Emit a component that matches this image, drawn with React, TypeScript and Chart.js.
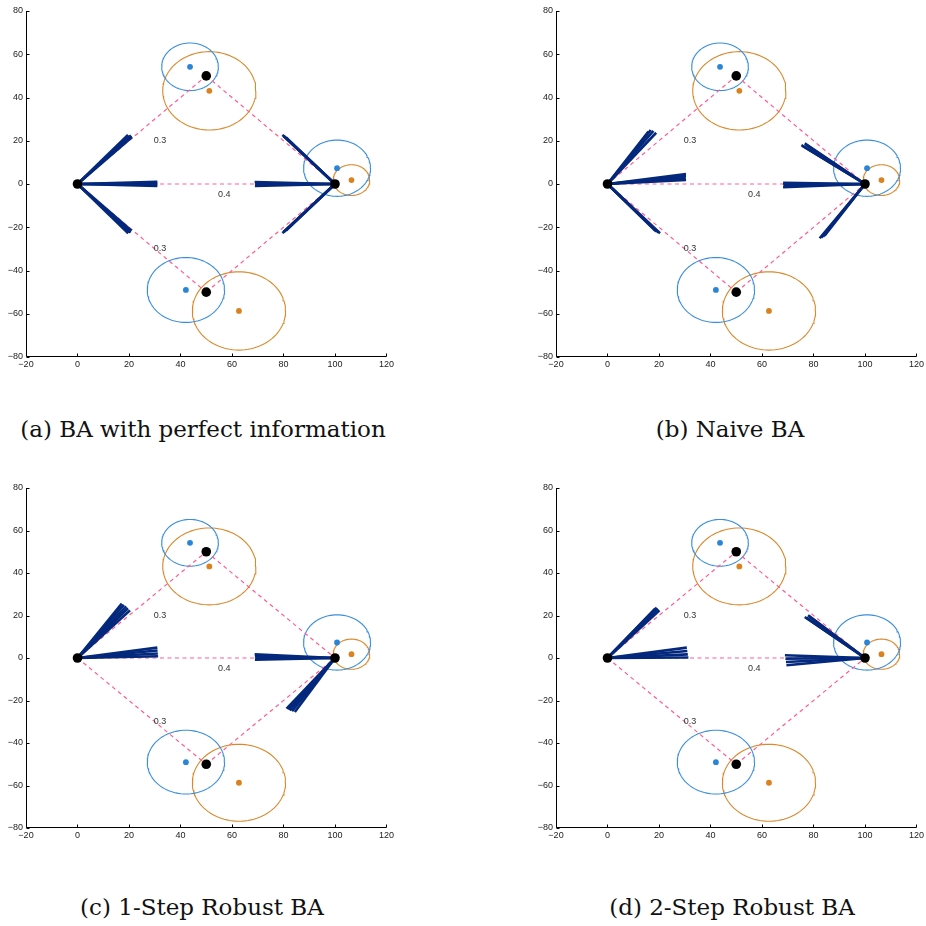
import React, { useEffect, useRef } from "react";
import { Chart, registerables } from "chart.js";
Chart.register(...registerables);

const X_TICKS = [-20, 0, 20, 40, 60, 80, 100, 120];
const Y_TICKS = [-80, -60, -40, -20, 0, 20, 40, 60, 80];

const NODES = [[0, 0], [100, 0], [50, 50], [50, -50]];
const EDGES = [[0, 2], [2, 1], [0, 1], [0, 3], [3, 1]];
const EDGE_LABELS = ["0.3", "0.4", "0.3"];
const EDGE_LABEL_POS = [[32, 20], [57, -5], [32, -30]];

const BLUE_CENTERS = [[43.7, 54.2], [100.8, 7.3], [42.1, -49]];
const BLUE_RADII = [11, 13, 15];
const ORANGE_CENTERS = [[51.2, 43.1], [106.4, 1.8], [62.7, -58.7]];
const ORANGE_RADII = [18.1, 7.1, 18.1];

// [origin node index, tip x, tip y]
const ARROWS_A = [
  [0, 19.6, 22.7], [0, 20.4, 22.2], [0, 21.2, 21.7], [0, 20.8, 22.4],
  [0, 31, 1.0], [0, 31, 0.4], [0, 31, -0.3], [0, 31, -0.9],
  [0, 19.7, -22.8], [0, 20.3, -22.2], [0, 21.0, -21.6], [0, 20.6, -22.5],
  [1, 79.6, 22.7], [1, 80.3, 22.0], [1, 81.0, 21.5], [1, 79.9, 22.3],
  [1, 68.8, 0.9], [1, 69, 0.3], [1, 69, -0.3], [1, 68.9, -0.9],
  [1, 79.6, -22.7], [1, 80.3, -22.0], [1, 81.0, -21.5], [1, 79.9, -22.3],
];
const ARROWS_B = [
  [0, 16.8, 25.0], [0, 18.9, 23.7], [0, 15.9, 24.2], [0, 17.8, 24.6],
  [0, 30.5, 4.6], [0, 30.5, 3.7], [0, 30.4, 2.8], [0, 30.5, 1.9],
  [0, 20.4, -22.8], [0, 19.1, -22.0], [0, 19.8, -22.5], [0, 18.6, -21.7],
  [1, 75.3, 18.0], [1, 76.6, 18.8], [1, 75.9, 17.5], [1, 77.0, 18.2],
  [1, 68.2, 0.6], [1, 68.2, -0.1], [1, 68.4, -0.8], [1, 68.2, -1.5],
  [1, 82.4, -25.1], [1, 83.7, -24.4], [1, 83.0, -24.8], [1, 84.3, -23.9],
];
const ARROWS_C = [
  [0, 17.2, 25.6], [0, 20.4, 22.4], [0, 18.9, 24.3], [0, 18.0, 25.0], [0, 19.6, 23.4],
  [0, 31.0, 4.9], [0, 31.1, 3.5], [0, 31.2, 2.1], [0, 31.3, 0.8],
  [1, 68.8, 1.8], [1, 68.9, 0.9], [1, 69.0, 0.0], [1, 68.9, -0.8],
  [1, 81.2, -23.8], [1, 84.4, -25.4], [1, 82.4, -24.6], [1, 83.3, -25.0], [1, 81.8, -24.2],
];
const ARROWS_D = [
  [0, 19.1, 23.7], [0, 20.2, 22.4], [0, 18.5, 23.2], [0, 19.6, 23.1],
  [0, 30.8, 4.9], [0, 31.0, 3.3], [0, 31.2, 1.7], [0, 31.4, 0.2],
  [1, 76.6, 19.3], [1, 77.9, 20.1], [1, 77.2, 19.0], [1, 78.3, 19.6],
  [1, 68.9, 1.3], [1, 69.1, -0.3], [1, 69.3, -1.9], [1, 69.5, -3.4],
];

const CAPTIONS = [
  "(a) BA with perfect information",
  "(b) Naive BA",
  "(c) 1-Step Robust BA",
  "(d) 2-Step Robust BA",
];

const BLUE = "#3a8edc";
const BLUE_DOT = "#2a84d8";
const ORANGE = "#d9892c";
const ORANGE_DOT = "#d9821f";
const PINK = "#ff5c93";
const NAVY = "#03287c";

function circlePoints(c: number[], r: number) {
  const pts: { x: number; y: number }[] = [];
  for (let i = 0; i <= 96; i++) {
    const t = (i / 96) * 2 * Math.PI;
    pts.push({ x: c[0] + r * Math.cos(t), y: c[1] + r * Math.sin(t) });
  }
  return pts;
}

function buildDatasets(arrows: number[][]) {
  const ds: any[] = [];
  BLUE_CENTERS.forEach((c, i) => {
    ds.push({ data: circlePoints(c, BLUE_RADII[i]), showLine: true, borderColor: BLUE, borderWidth: 1.1, pointRadius: 0, order: 50 });
  });
  ORANGE_CENTERS.forEach((c, i) => {
    ds.push({ data: circlePoints(c, ORANGE_RADII[i]), showLine: true, borderColor: ORANGE, borderWidth: 1.1, pointRadius: 0, order: 50 });
  });
  EDGES.forEach(([a, b]) => {
    ds.push({
      data: [{ x: NODES[a][0], y: NODES[a][1] }, { x: NODES[b][0], y: NODES[b][1] }],
      showLine: true, borderColor: PINK, borderWidth: 1.2, borderDash: [4, 3.5], pointRadius: 0, order: 40,
    });
  });
  ds.push({ data: BLUE_CENTERS.map((c) => ({ x: c[0], y: c[1] })), showLine: false, pointRadius: 2.9, pointBackgroundColor: BLUE_DOT, pointBorderWidth: 0, order: 30 });
  ds.push({ data: ORANGE_CENTERS.map((c) => ({ x: c[0], y: c[1] })), showLine: false, pointRadius: 2.9, pointBackgroundColor: ORANGE_DOT, pointBorderWidth: 0, order: 30 });
  arrows.forEach(([n, tx, ty]) => {
    ds.push({
      data: [{ x: NODES[n][0], y: NODES[n][1] }, { x: tx, y: ty }],
      showLine: true, borderColor: NAVY, borderWidth: 2.6, borderCapStyle: "butt", pointRadius: 0, order: 20,
    });
  });
  ds.push({ data: NODES.map((p) => ({ x: p[0], y: p[1] })), showLine: false, pointRadius: 4.8, pointBackgroundColor: "#000", pointBorderWidth: 0, order: 10 });
  return ds;
}

const fmt = (v: any) => (Number(v) < 0 ? "\u2212" + Math.abs(Number(v)) : String(v));

const axesPlugin = {
  id: "matlabAxes",
  afterDraw(chart: any) {
    const { ctx, chartArea, scales } = chart;
    const { right, top, left, bottom } = chartArea;
    const xs = scales.x;
    const ys = scales.y;
    ctx.save();
    ctx.strokeStyle = "#000";
    ctx.lineWidth = 1;
    const L = Math.round(left) + 0.5;
    const B = Math.round(bottom) - 0.5;
    ctx.beginPath();
    ctx.moveTo(L, top);
    ctx.lineTo(L, B);
    ctx.lineTo(right, B);
    ctx.stroke();
    ctx.beginPath();
    X_TICKS.forEach((v) => {
      const px = Math.round(xs.getPixelForValue(v)) + 0.5;
      ctx.moveTo(px, B);
      ctx.lineTo(px, B - 3);
    });
    Y_TICKS.forEach((v) => {
      const py = Math.round(ys.getPixelForValue(v)) + 0.5;
      ctx.moveTo(L, py);
      ctx.lineTo(L + 3, py);
    });
    ctx.stroke();
    ctx.restore();
  },
  afterDatasetsDraw(chart: any) {
    const { ctx, scales } = chart;
    ctx.save();
    ctx.fillStyle = "#333";
    ctx.font = "9px 'Liberation Sans', Arial, sans-serif";
    ctx.textAlign = "center";
    ctx.textBaseline = "middle";
    EDGE_LABELS.forEach((t, i) => {
      ctx.fillText(t, scales.x.getPixelForValue(EDGE_LABEL_POS[i][0]), scales.y.getPixelForValue(EDGE_LABEL_POS[i][1]));
    });
    ctx.restore();
  },
};

function Panel({ arrows, left, top, xH }: { arrows: number[][]; left: number; top: number; xH: number }) {
  const ref = useRef<HTMLCanvasElement>(null);
  useEffect(() => {
    if (!ref.current) return;
    const tickFont = { family: "'Liberation Sans', Arial, sans-serif", size: 9 };
    const chart = new Chart(ref.current, {
      type: "scatter",
      data: { datasets: buildDatasets(arrows) },
      options: {
        animation: false,
        responsive: false,
        maintainAspectRatio: false,
        devicePixelRatio: 1,
        layout: { padding: { top: 11, right: 9, left: 0, bottom: 0 } },
        plugins: { legend: { display: false }, tooltip: { enabled: false } },
        events: [],
        scales: {
          x: {
            type: "linear",
            min: -20,
            max: 120,
            afterBuildTicks: (s: any) => { s.ticks = X_TICKS.map((v) => ({ value: v })); },
            afterFit: (s: any) => { s.height = xH; },
            ticks: { callback: fmt, font: tickFont, color: "#222", maxRotation: 0, autoSkip: false, padding: 2 },
            grid: { display: false, drawTicks: false },
            border: { display: false },
          },
          y: {
            type: "linear",
            min: -80,
            max: 80,
            afterBuildTicks: (s: any) => { s.ticks = Y_TICKS.map((v) => ({ value: v })); },
            afterFit: (s: any) => { s.width = 26; },
            ticks: { callback: fmt, font: tickFont, color: "#222", autoSkip: false, padding: 3 },
            grid: { display: false, drawTicks: false },
            border: { display: false },
          },
        },
      } as any,
      plugins: [axesPlugin as any],
    });
    return () => chart.destroy();
  }, []);
  return <canvas ref={ref} width={396} height={380} style={{ position: "absolute", left, top, width: 396, height: 380 }} />;
}

function Caption({ text, cx, top }: { text: string; cx: number; top: number }) {
  return (
    <div
      style={{
        position: "absolute",
        left: cx - 250,
        top,
        width: 500,
        textAlign: "center",
        fontFamily: "'DejaVu Serif', serif",
        fontSize: 23,
        lineHeight: "23px",
        color: "#111",
        whiteSpace: "nowrap",
      }}
    >
      {text}
    </div>
  );
}

export default function App() {
  return (
    <div style={{ position: "absolute", left: 0, top: 0, width: 926, height: 926, background: "#fff", overflow: "hidden" }}>
      <Panel arrows={ARROWS_A} left={0} top={0} xH={23} />
      <Panel arrows={ARROWS_B} left={530} top={0} xH={23} />
      <Panel arrows={ARROWS_C} left={0} top={477} xH={29} />
      <Panel arrows={ARROWS_D} left={530} top={477} xH={29} />
      <Caption text={CAPTIONS[0]} cx={203} top={418} />
      <Caption text={CAPTIONS[1]} cx={730} top={418} />
      <Caption text={CAPTIONS[2]} cx={202} top={896} />
      <Caption text={CAPTIONS[3]} cx={732} top={896} />
    </div>
  );
}
